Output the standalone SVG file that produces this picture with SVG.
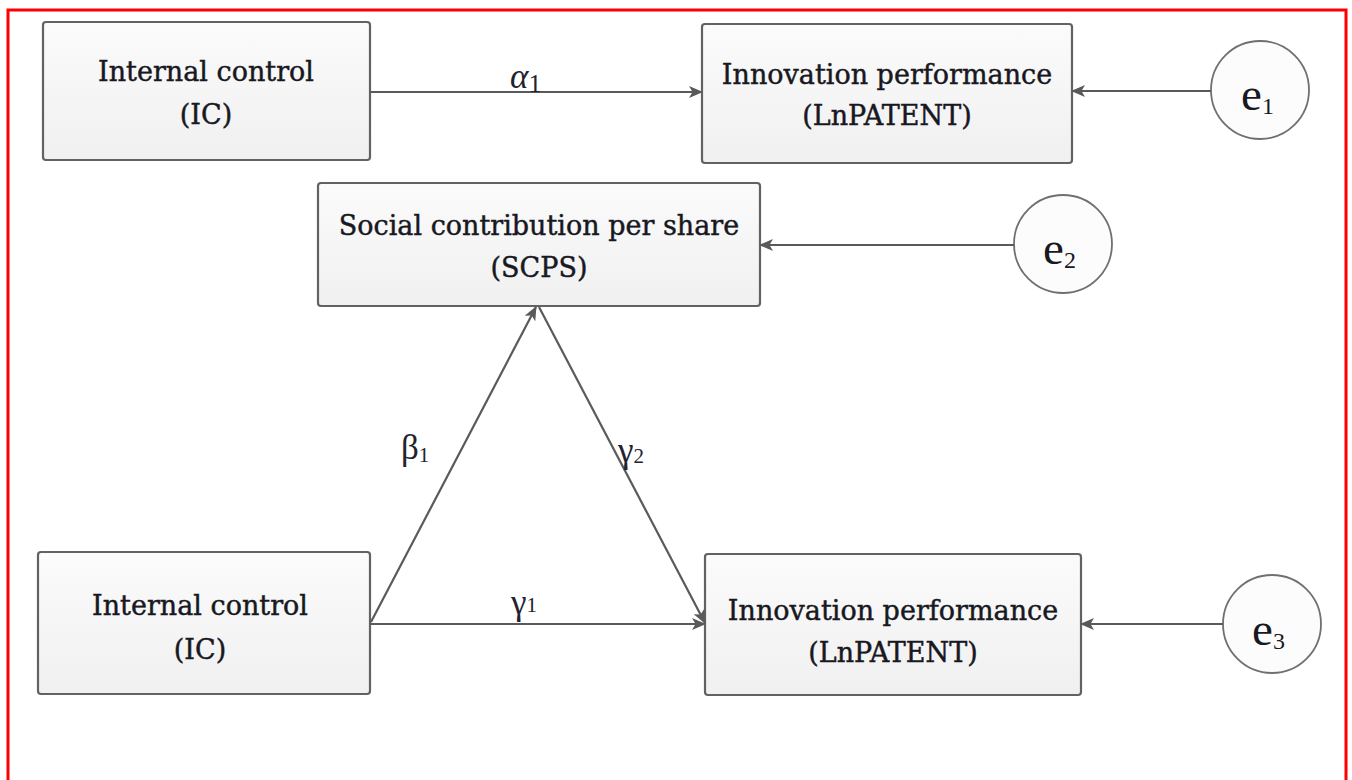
<svg xmlns="http://www.w3.org/2000/svg" width="1352" height="780" viewBox="0 0 1352 780">
<defs>
<linearGradient id="boxg" x1="0" y1="0" x2="0" y2="1">
<stop offset="0" stop-color="#fbfbfb"/>
<stop offset="1" stop-color="#f0f0f0"/>
</linearGradient>
<marker id="arr" viewBox="0 0 14 12" refX="13" refY="6" markerWidth="14" markerHeight="12" markerUnits="userSpaceOnUse" orient="auto">
<path d="M0,0 L14,6 L0,12 L3.5,6 Z" fill="#5a5a5a"/>
</marker>
</defs>
<style>
.box{fill:url(#boxg);stroke:#626262;stroke-width:2.2}
.circ{fill:#fcfcfc;stroke:#707070;stroke-width:1.8}
.t{font-family:"DejaVu Serif",serif;font-size:27px;fill:#181822;stroke:#181822;stroke-width:0.45;text-anchor:middle}
.e{font-family:"Liberation Serif",serif;font-size:47px;fill:#181822}
.sub{font-size:24px}
.lbl{font-family:"Liberation Serif",serif;font-size:35px;fill:#22222e}
.c{fill:none;stroke:#5a5a5a;stroke-width:2.2}
</style>
<rect x="8" y="10" width="1338" height="800" fill="#fff" stroke="#f00" stroke-width="3"/>

<g id="ic1">
<rect class="box" x="43" y="22" width="327" height="138" rx="3"/>
<text class="t" x="206" y="81">Internal control</text>
<text class="t" x="206" y="124">(IC)</text>
</g>
<g id="ip1">
<rect class="box" x="702" y="24" width="370" height="139" rx="3"/>
<text class="t" x="887" y="84">Innovation performance</text>
<text class="t" x="887" y="125">(LnPATENT)</text>
</g>
<g id="e1">
<circle class="circ" cx="1260" cy="90" r="49"/>
<text class="e" x="1241" y="110">e<tspan class="sub" dy="4">1</tspan></text>
</g>
<g id="scps">
<rect class="box" x="318" y="183" width="442" height="123" rx="3"/>
<text class="t" x="539" y="235">Social contribution per share</text>
<text class="t" x="539" y="277">(SCPS)</text>
</g>
<g id="e2">
<circle class="circ" cx="1063" cy="244" r="49"/>
<text class="e" x="1043" y="264">e<tspan class="sub" dy="4">2</tspan></text>
</g>
<g id="ic2">
<rect class="box" x="38" y="552" width="332" height="142" rx="3"/>
<text class="t" x="200" y="615">Internal control</text>
<text class="t" x="200" y="659">(IC)</text>
</g>
<g id="ip2">
<rect class="box" x="705" y="554" width="376" height="141" rx="3"/>
<text class="t" x="893" y="620">Innovation performance</text>
<text class="t" x="893" y="662">(LnPATENT)</text>
</g>
<g id="e3">
<circle class="circ" cx="1272" cy="624" r="49"/>
<text class="e" x="1252" y="645">e<tspan class="sub" dy="4">3</tspan></text>
</g>

<g id="connectors">
<line class="c" x1="370" y1="92" x2="702" y2="92" marker-end="url(#arr)"/>
<line class="c" x1="1211" y1="91" x2="1072" y2="91" marker-end="url(#arr)"/>
<line class="c" x1="1014" y1="245" x2="760" y2="245" marker-end="url(#arr)"/>
<line class="c" x1="370" y1="624" x2="705" y2="624" marker-end="url(#arr)"/>
<line class="c" x1="1223" y1="624" x2="1081" y2="624" marker-end="url(#arr)"/>
<line class="c" x1="371" y1="622" x2="536" y2="307" marker-end="url(#arr)"/>
<line class="c" x1="539" y1="307" x2="705" y2="623" marker-end="url(#arr)"/>
</g>

<g id="labels">
<text class="lbl" x="510" y="88" font-style="italic">α<tspan font-size="26" font-style="normal" dy="4">1</tspan></text>
<text class="lbl" x="401" y="459">β<tspan font-size="21" dy="3">1</tspan></text>
<text class="lbl" x="618" y="462">γ<tspan font-size="21" dy="1">2</tspan></text>
<text class="lbl" x="511" y="614">γ<tspan font-size="21" dy="-2">1</tspan></text>
</g>
</svg>
